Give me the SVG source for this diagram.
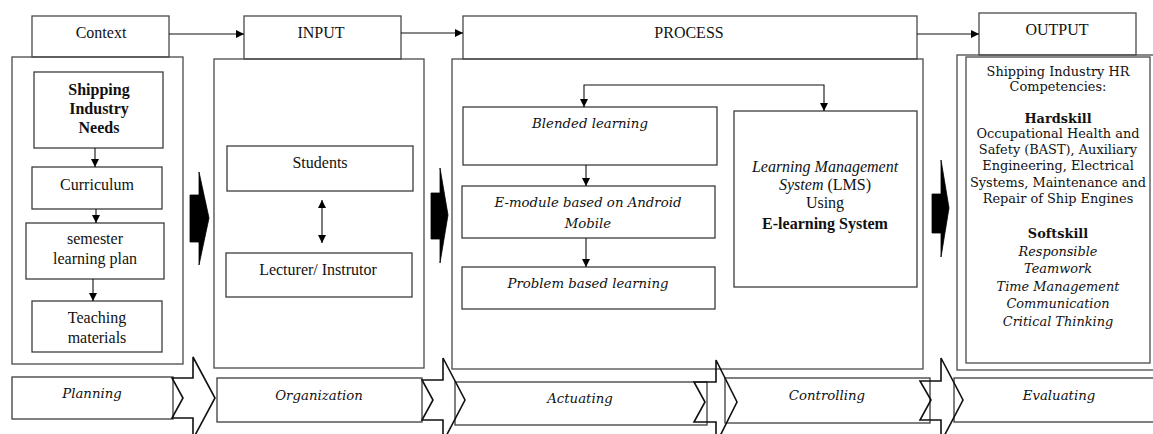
<svg xmlns="http://www.w3.org/2000/svg" width="1153" height="434" viewBox="0 0 1153 434">
  <defs>
    <style>
      .box { fill: #fff; stroke: #3c3c3c; stroke-width: 1.3; }
      .frame { fill: none; stroke: #4a4a4a; stroke-width: 1.3; }
      .link { fill: none; stroke: #111; stroke-width: 1.1; }
      .chev { fill: none; stroke: #111; stroke-width: 1.6; stroke-linejoin: miter; }
      .block { fill: #000; stroke: #000; stroke-width: 0.8; }
      .t { font-family: "Liberation Serif", "Times New Roman", serif; font-size: 16px; fill: #111; text-anchor: middle; }
      .p { font-family: "DejaVu Serif", "Liberation Serif", serif; font-size: 13.3px; fill: #111; text-anchor: middle; }
      .o { font-size: 12.9px; }
      .b { font-weight: bold; }
      .i { font-style: italic; }
    </style>
    <marker id="ah" viewBox="0 0 8 8" refX="8" refY="4" markerWidth="8" markerHeight="8" markerUnits="userSpaceOnUse" orient="auto-start-reverse">
      <path d="M0,0 L8,4 L0,8 z" fill="#000"/>
    </marker>
  </defs>

  <!-- Context column -->
  <g id="context">
    <rect class="frame" x="32" y="16" width="137" height="41"/>
    <text class="t" x="101" y="38">Context</text>
    <rect class="frame" x="12" y="57" width="171" height="307"/>
  </g>
  <g id="needs">
    <rect class="box" x="34" y="72" width="129" height="76"/>
    <text class="t b" x="99" y="95">Shipping</text>
    <text class="t b" x="99" y="114">Industry</text>
    <text class="t b" x="99" y="133">Needs</text>
  </g>
  <g id="curriculum">
    <rect class="box" x="32" y="167" width="130" height="42"/>
    <text class="t" x="97" y="190">Curriculum</text>
  </g>
  <g id="semester-plan">
    <rect class="box" x="26" y="223" width="138" height="56"/>
    <text class="t" x="95" y="244">semester</text>
    <text class="t" x="95" y="264">learning plan</text>
  </g>
  <g id="teaching-materials">
    <rect class="box" x="32" y="301" width="130" height="51"/>
    <text class="t" x="97" y="323">Teaching</text>
    <text class="t" x="97" y="343">materials</text>
  </g>

  <!-- Input column -->
  <g id="input">
    <rect class="frame" x="244" y="16" width="157" height="43"/>
    <text class="t" x="321" y="38">INPUT</text>
    <rect class="frame" x="214" y="59" width="210" height="309"/>
  </g>
  <g id="students">
    <rect class="box" x="227" y="146" width="186" height="45"/>
    <text class="t" x="320" y="168">Students</text>
  </g>
  <g id="lecturer">
    <rect class="box" x="226" y="253" width="186" height="44"/>
    <text class="t" x="318" y="275">Lecturer/ Instrutor</text>
  </g>

  <!-- Process column -->
  <g id="process">
    <rect class="frame" x="463" y="16" width="454" height="43"/>
    <text class="t" x="689" y="38">PROCESS</text>
    <rect class="frame" x="452" y="59" width="471" height="310"/>
  </g>
  <g id="blended">
    <rect class="box" x="463" y="107" width="254" height="58"/>
    <text class="p i" x="590" y="128">Blended learning</text>
  </g>
  <g id="emodule">
    <rect class="box" x="462" y="186" width="253" height="52"/>
    <text class="p i" x="588" y="207">E-module based on Android</text>
    <text class="p i" x="588" y="228">Mobile</text>
  </g>
  <g id="pbl">
    <rect class="box" x="462" y="267" width="253" height="42"/>
    <text class="p i" x="588" y="288">Problem based learning</text>
  </g>
  <g id="lms">
    <rect class="box" x="734" y="111" width="183" height="176"/>
    <text class="t i" x="825" y="172">Learning Management</text>
    <text class="t" x="825" y="190"><tspan class="i">System</tspan> (LMS)</text>
    <text class="t" x="825" y="208">Using</text>
    <text class="t b" x="825" y="229">E-learning System</text>
  </g>

  <!-- Output column -->
  <g id="output">
    <rect class="frame" x="979" y="13" width="157" height="42"/>
    <text class="t" x="1057" y="35">OUTPUT</text>
    <rect class="frame" x="957" y="55" width="200" height="315"/>
    <rect class="frame" x="966" y="57" width="184" height="306"/>
    <text class="p o" x="1058" y="76">Shipping Industry HR</text>
    <text class="p o" x="1058" y="91">Competencies:</text>
    <text class="p o b" x="1058" y="123">Hardskill</text>
    <text class="p o" x="1058" y="138">Occupational Health and</text>
    <text class="p o" x="1058" y="154">Safety (BAST), Auxiliary</text>
    <text class="p o" x="1058" y="170">Engineering, Electrical</text>
    <text class="p o" x="1058" y="187">Systems, Maintenance and</text>
    <text class="p o" x="1058" y="203">Repair of Ship Engines</text>
    <text class="p o b" x="1058" y="238">Softskill</text>
    <text class="p o i" x="1058" y="256">Responsible</text>
    <text class="p o i" x="1058" y="273">Teamwork</text>
    <text class="p o i" x="1058" y="291">Time Management</text>
    <text class="p o i" x="1058" y="308">Communication</text>
    <text class="p o i" x="1058" y="326">Critical Thinking</text>
  </g>

  <!-- Management functions strip -->
  <g id="planning">
    <rect class="box" x="12" y="377" width="161" height="42"/>
    <text class="p i" x="92" y="398">Planning</text>
  </g>
  <g id="organization">
    <rect class="box" x="217" y="378" width="205" height="44"/>
    <text class="p i" x="319" y="400">Organization</text>
  </g>
  <g id="actuating">
    <rect class="box" x="455" y="382" width="252" height="43"/>
    <text class="p i" x="580" y="403">Actuating</text>
  </g>
  <g id="controlling">
    <rect class="box" x="725" y="378" width="205" height="45"/>
    <text class="p i" x="827" y="400">Controlling</text>
  </g>
  <g id="evaluating">
    <rect class="box" x="954" y="378" width="210" height="44"/>
    <text class="p i" x="1059" y="400">Evaluating</text>
  </g>

  <!-- Connectors -->
  <g id="connectors">
    <!-- header flow -->
    <line class="link" x1="169" y1="34" x2="244" y2="34" marker-end="url(#ah)"/>
    <line class="link" x1="401" y1="33" x2="463" y2="33" marker-end="url(#ah)"/>
    <line class="link" x1="917" y1="34" x2="979" y2="34" marker-end="url(#ah)"/>
    <!-- context chain -->
    <line class="link" x1="95" y1="148" x2="95" y2="167" marker-end="url(#ah)"/>
    <line class="link" x1="96" y1="209" x2="96" y2="223" marker-end="url(#ah)"/>
    <line class="link" x1="93" y1="279" x2="93" y2="301" marker-end="url(#ah)"/>
    <!-- students / lecturer -->
    <line class="link" x1="322" y1="200" x2="322" y2="243" marker-start="url(#ah)" marker-end="url(#ah)"/>
    <!-- process chain -->
    <polyline class="link" points="584,107 584,85 824,85 824,111" marker-start="url(#ah)" marker-end="url(#ah)"/>
    <line class="link" x1="586" y1="165" x2="586" y2="186" marker-end="url(#ah)"/>
    <line class="link" x1="586" y1="238" x2="586" y2="267" marker-end="url(#ah)"/>
    <!-- black block arrows between columns -->
    <polygon class="block" points="190,195 199,195 199,172 209,218 199,265 199,242 190,242"/>
    <polygon class="block" points="431,193 440,193 440,168 448,215 440,263 440,239 431,239"/>
    <polygon class="block" points="932,194 941,194 941,160 949,208 941,257 941,233 932,233"/>
    <!-- outlined chevrons along the strip -->
    <polygon class="chev" points="172,378 193,378 193,357 215,398 193,439 193,418 172,418 183,398"/>
    <polygon class="chev" points="422,380 443,380 443,358 465,400 443,442 443,420 422,420 433,400"/>
    <polygon class="chev" points="694,382 716,382 716,360 737,402 716,444 716,422 694,422 705,402"/>
    <polygon class="chev" points="920,381 941,381 941,358 963,400 941,442 941,420 920,420 931,400"/>
  </g>
</svg>
